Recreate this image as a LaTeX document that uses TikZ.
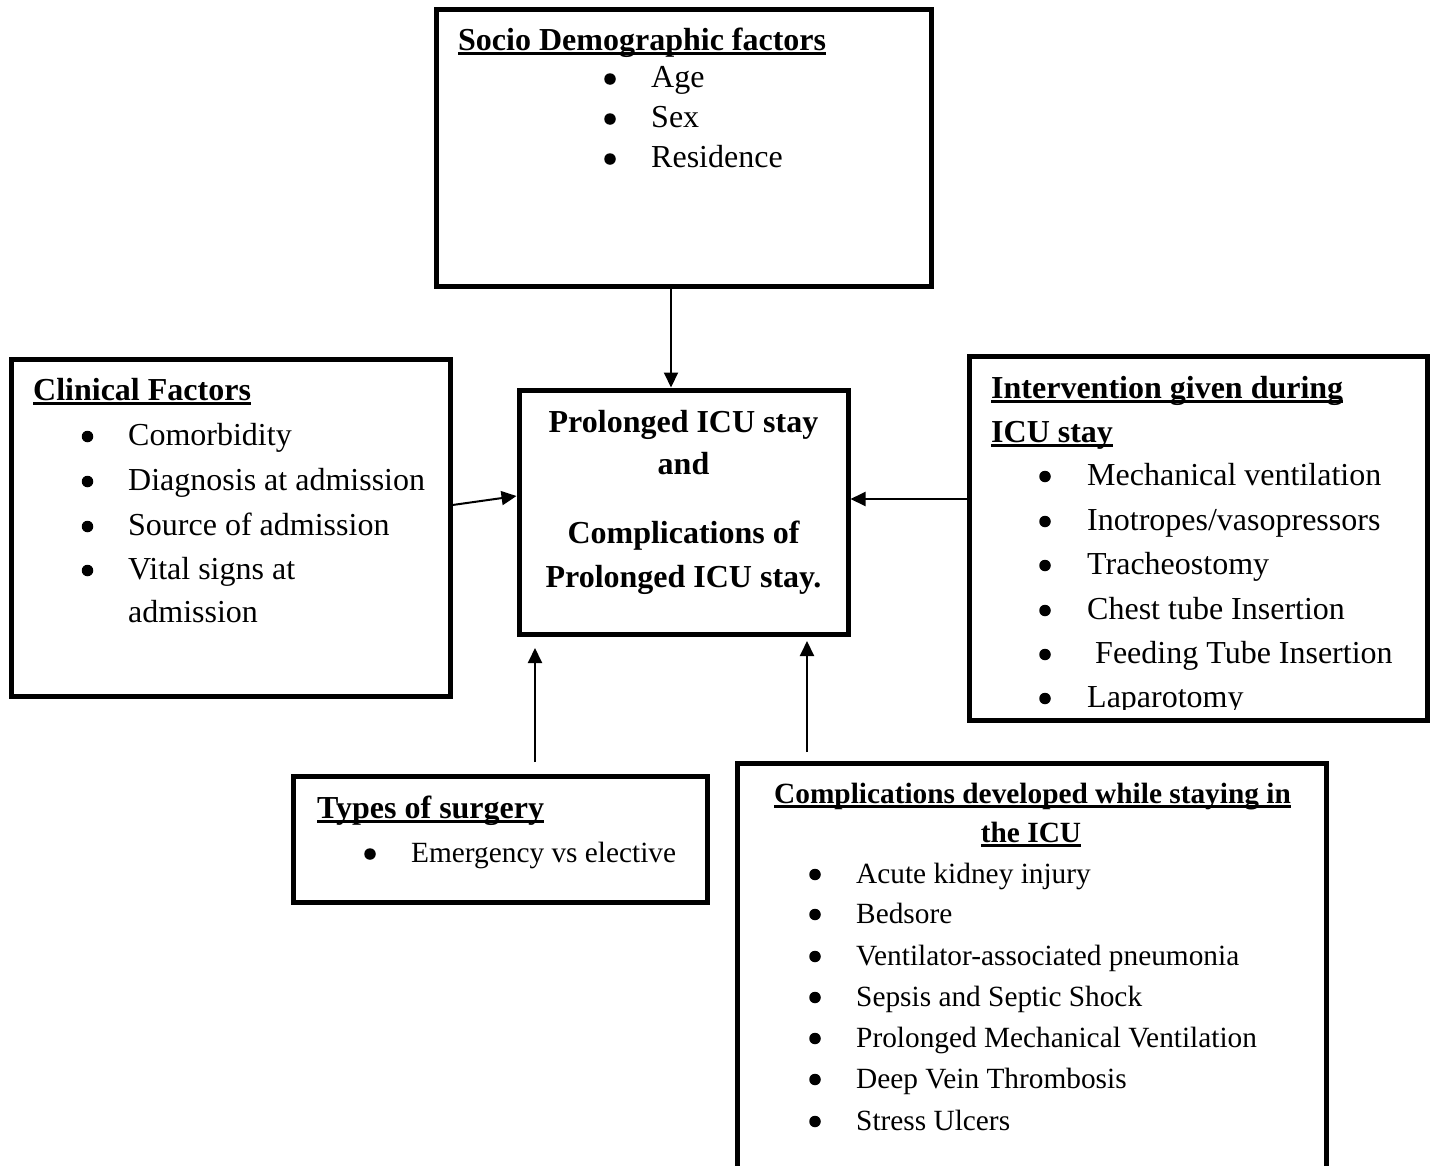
\documentclass[tikz,border=0pt]{standalone}
\usepackage{fontspec}
\setmainfont{Liberation Serif}
\usetikzlibrary{arrows.meta}
\newcommand\hdul[1]{\setbox0=\hbox{\bfseries #1}\rlap{\rule[-5pt]{\wd0}{2.6pt}}\box0}
\begin{document}
\begin{tikzpicture}[x=1pt,y=-1pt,
  box/.style={draw, line width=5pt, inner sep=0pt, outer sep=2.5pt, anchor=north west},
  txt/.style={inner sep=0pt, anchor=base west, font=\fontsize{32}{38}\selectfont},
  stxt/.style={inner sep=0pt, anchor=base west, font=\fontsize{29.33}{35}\selectfont},
  ctxt/.style={inner sep=0pt, anchor=base, font=\fontsize{32}{38}\selectfont\bfseries},
  sctxt/.style={inner sep=0pt, anchor=base, font=\fontsize{29.33}{35}\selectfont},
  bul/.style={circle, fill, inner sep=0pt, minimum size=11.5pt},
  arr/.style={-{Triangle[length=15pt,width=14pt]}, line width=2pt}]
\useasboundingbox (0,0) rectangle (1434,1165);

% boxes
\node[box, minimum width=495pt, minimum height=276.5pt] (socio) at (433.5,7) {};
\node[box, minimum width=439pt, minimum height=337pt] (clin) at (8.5,356.5) {};
\node[box, minimum width=329pt, minimum height=244pt] (central) at (516.5,387.5) {};
\node[box, minimum width=458pt, minimum height=364pt] (inter) at (966.5,353.5) {};
\node[box, minimum width=414pt, minimum height=126pt] (types) at (290.5,773.5) {};
\node[box, minimum width=589pt, minimum height=410pt] (comp) at (734.5,760.5) {};

% socio demographic
\node[txt] (sh) at (458,50) {\hdul{Socio Demographic factors}};
\node[bul] (sb1) at (610,79) {};
\node[bul] (sb2) at (610,119) {};
\node[bul] (sb3) at (610,159) {};
\node[txt] (st1) at (651,87) {Age};
\node[txt] (st2) at (651,127) {Sex};
\node[txt] (st3) at (651,167) {Residence};

% clinical
\node[txt] (ch) at (33,400) {\hdul{Clinical Factors}};
\node[bul] (cb1) at (87.5,436.5) {};
\node[bul] (cb2) at (87.5,481.5) {};
\node[bul] (cb3) at (87.5,526.5) {};
\node[bul] (cb4) at (87.5,570.5) {};
\node[txt] (ct1) at (128,445) {Comorbidity};
\node[txt] (ct2) at (128,490) {Diagnosis at admission};
\node[txt] (ct3) at (128,535) {Source of admission};
\node[txt] (ct4) at (128,579) {Vital signs at};
\node[txt] (ct5) at (128,622) {admission};

% central
\node[ctxt] (m1) at (683.5,432) {Prolonged ICU stay};
\node[ctxt] (m2) at (683.5,474) {and};
\node[ctxt] (m3) at (683.5,543) {Complications of};
\node[ctxt] (m4) at (683.5,587) {Prolonged ICU stay.};

% intervention
\node[txt] (ih1) at (991,398) {\hdul{Intervention given during}};
\node[txt] (ih2) at (991,442) {\hdul{ICU stay}};
\begin{scope}
\clip (969,356) rectangle (1425,709);
\node[bul] (ib1) at (1045,476.5) {};
\node[bul] (ib2) at (1045,521.5) {};
\node[bul] (ib3) at (1045,565.5) {};
\node[bul] (ib4) at (1045,610.5) {};
\node[bul] (ib5) at (1045,654.5) {};
\node[bul] (ib6) at (1045,698.5) {};
\node[txt] (it1) at (1087,485) {Mechanical ventilation};
\node[txt] (it2) at (1087,530) {Inotropes/vasopressors};
\node[txt] (it3) at (1087,574) {Tracheostomy};
\node[txt] (it4) at (1087,619) {Chest tube Insertion};
\node[txt] (it5) at (1095,663) {Feeding Tube Insertion};
\node[txt] (it6) at (1087,707) {Laparotomy};
\end{scope}

% types of surgery
\node[txt] (th) at (317,818) {\hdul{Types of surgery}};
\node[bul] (tb1) at (370,854) {};
\node[stxt] (tt1) at (411,862) {Emergency vs elective};

% complications
\node[sctxt] (kh1) at (1032.5,803) {\hdul{Complications developed while staying in}};
\node[sctxt] (kh2) at (1031,842) {\hdul{the ICU}};
\node[bul] (kb1) at (815,874.5) {};
\node[bul] (kb2) at (815,914.5) {};
\node[bul] (kb3) at (815,956.5) {};
\node[bul] (kb4) at (815,997.5) {};
\node[bul] (kb5) at (815,1038.5) {};
\node[bul] (kb6) at (815,1079.5) {};
\node[bul] (kb7) at (815,1121.5) {};
\node[stxt] (kt1) at (856,883) {Acute kidney injury};
\node[stxt] (kt2) at (856,923) {Bedsore};
\node[stxt] (kt3) at (856,965) {Ventilator-associated pneumonia};
\node[stxt] (kt4) at (856,1006) {Sepsis and Septic Shock};
\node[stxt] (kt5) at (856,1047) {Prolonged Mechanical Ventilation};
\node[stxt] (kt6) at (856,1088) {Deep Vein Thrombosis};
\node[stxt] (kt7) at (856,1130) {Stress Ulcers};

% connectors
\coordinate (ax) at (671,0);
\coordinate (c1) at (0,505);
\coordinate (c2) at (0,496);
\coordinate (c3) at (0,499);
\coordinate (tA) at (535,762);
\coordinate (tB) at (535,648);
\coordinate (kA) at (807,752);
\coordinate (kB) at (807,641);
\draw[arr] (socio.south -| ax) -- (central.north -| ax);
\draw[arr] (clin.east |- c1) -- (central.west |- c2);
\draw[arr] (inter.west |- c3) -- (central.east |- c3);
\draw[arr] (tA) -- (tB);
\draw[arr] (kA) -- (kB);
\end{tikzpicture}
\end{document}
